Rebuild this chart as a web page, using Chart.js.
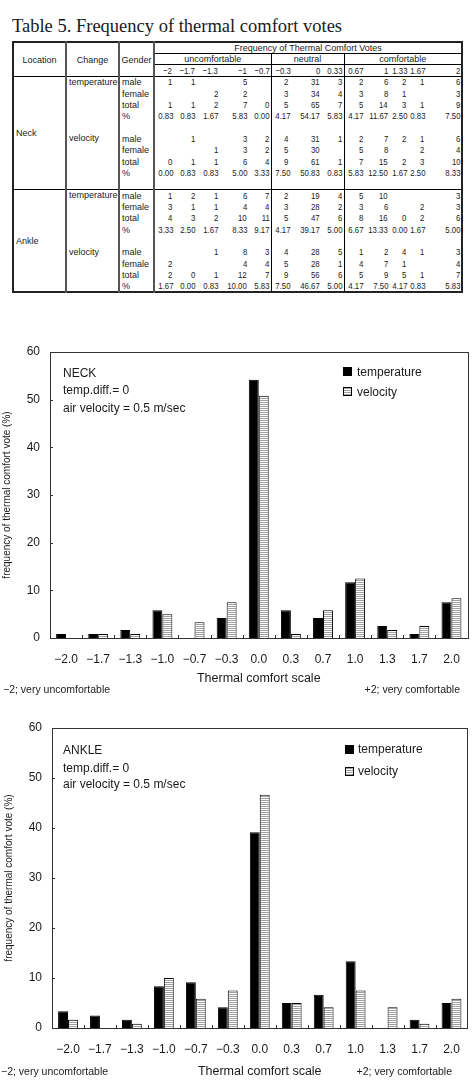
<!DOCTYPE html>
<html>
<head>
<meta charset="utf-8">
<script src="https://cdn.jsdelivr.net/npm/chart.js@4.4.0/dist/chart.umd.min.js"></script>
<style>
  body { margin: 0; background: #fff; width: 474px; height: 1086px; position: relative; overflow: hidden;
         font-family: "Liberation Sans", Arial, sans-serif; color: #1a1a1a; }
  #title { position: absolute; left: 12px; top: 16px; font-family: "Liberation Serif", "Times New Roman", serif;
           font-size: 18.5px; line-height: 20px; white-space: nowrap; }
  #votes { position: absolute; left: 12px; top: 41px; width: 449px; border-collapse: collapse; table-layout: fixed;
           font-size: 9px; border: 2px solid #222; }
  #votes td { padding: 0 1px 0 0; line-height: 10px; text-align: right; white-space: nowrap; overflow: visible; }
  #votes td span.n { display: inline-block; font-size: 9.5px; transform: scaleX(0.82); transform-origin: 100% 50%; }
  #votes tr { height: 11.35px; }
  #votes tr.h1 { height: 11px; } #votes tr.h2 { height: 10px; } #votes tr.h3 { height: 12px; }
  #votes td.hd { text-align: center; padding: 0; }
  #votes td.ul { border-bottom: 1px solid #000; }
  #votes tr.h3 td, #votes td.hd.sep { border-bottom: 1px solid #000; }
  #votes td.sep { border-right: 2px solid #555; }
  #votes td.gr { border-right: 1.5px solid #000; }
  #votes td.loc { text-align: left; vertical-align: middle; padding-left: 2px; }
  #votes td.chg { text-align: left; vertical-align: top; padding-left: 2px; }
  #votes td.gen { text-align: left; padding-left: 2px; }
  #votes tr.top td { border-top: 1px solid #000; }
  .chart { position: absolute; left: 0; width: 474px; }
  .note { position: absolute; font-size: 12px; line-height: 14px; white-space: nowrap; }
  .lg { position: absolute; font-size: 12px; line-height: 14px; white-space: nowrap; }
  .sw { position: absolute; width: 7px; height: 7px; border: 1px solid #000; }
  .sw.temp { background: #000; }
  .sw.vel { background: repeating-linear-gradient(to bottom, #a0a0a0 0 1px, #fff 1px 2px); }
  .scale-note { position: absolute; font-size: 10.5px; line-height: 12px; white-space: nowrap; }
</style>
</head>
<body>
<div id="title">Table 5. Frequency of thermal comfort votes</div>
<table id="votes"></table>

<div class="chart" style="top:330px;height:370px"><canvas id="neckChart" width="474" height="370"></canvas></div>
<div class="note" style="left:63px;top:365.5px">NECK</div>
<div class="note" style="left:63px;top:383px">temp.diff.= 0</div>
<div class="note" style="left:63px;top:400.5px">air velocity = 0.5 m/sec</div>
<div class="sw temp" style="left:343px;top:367px"></div>
<div class="lg" style="left:357px;top:364.5px">temperature</div>
<div class="sw vel" style="left:343px;top:387px"></div>
<div class="lg" style="left:357px;top:384.5px">velocity</div>
<div class="scale-note" style="left:3px;top:682.5px">−2; very uncomfortable</div>
<div class="scale-note" style="right:14px;top:682.5px">+2; very comfortable</div>

<div class="chart" style="top:710px;height:376px"><canvas id="ankleChart" width="474" height="376"></canvas></div>
<div class="note" style="left:63px;top:743px">ANKLE</div>
<div class="note" style="left:63px;top:760.5px">temp.diff.= 0</div>
<div class="note" style="left:63px;top:777px">air velocity = 0.5 m/sec</div>
<div class="sw temp" style="left:345px;top:745px"></div>
<div class="lg" style="left:358px;top:742px">temperature</div>
<div class="sw vel" style="left:345px;top:767px"></div>
<div class="lg" style="left:358px;top:764px">velocity</div>
<div class="scale-note" style="left:1px;top:1065px">−2; very uncomfortable</div>
<div class="scale-note" style="right:22px;top:1065px">+2; very comfortable</div>

<script>
// vote scale as written in the table header, and as the chart's x tick labels
const tableVotes = ["−2", "−1.7", "−1.3", "−1", "−0.7", "−0.3", "0", "0.33", "0.67", "1", "1.33", "1.67", "2"];
const chartLabels = ["−2.0", "−1.7", "−1.3", "−1.0", "−0.7", "−0.3", "0.0", "0.3", "0.7", "1.0", "1.3", "1.7", "2.0"];
const yTicks = [0, 10, 20, 30, 40, 50, 60];

// neck, temperature change
const neckTempMale   = [1, 1, null, 5, null, 2, 31, 3, 2, 6, 2, 1, 6];
const neckTempFemale = [null, null, 2, 2, null, 3, 34, 4, 3, 8, 1, null, 3];
const neckTempTotal  = [1, 1, 2, 7, 0, 5, 65, 7, 5, 14, 3, 1, 9];
const neckTempPct    = [0.83, 0.83, 1.67, 5.83, 0.00, 4.17, 54.17, 5.83, 4.17, 11.67, 2.50, 0.83, 7.50];
// neck, velocity change
const neckVelMale    = [null, 1, null, 3, 2, 4, 31, 1, 2, 7, 2, 1, 6];
const neckVelFemale  = [null, null, 1, 3, 2, 5, 30, null, 5, 8, null, 2, 4];
const neckVelTotal   = [0, 1, 1, 6, 4, 9, 61, 1, 7, 15, 2, 3, 10];
const neckVelPct     = [0.00, 0.83, 0.83, 5.00, 3.33, 7.50, 50.83, 0.83, 5.83, 12.50, 1.67, 2.50, 8.33];
// ankle, temperature change
const ankleTempMale   = [1, 2, 1, 6, 7, 2, 19, 4, 5, 10, null, null, 3];
const ankleTempFemale = [3, 1, 1, 4, 4, 3, 28, 2, 3, 6, null, 2, 3];
const ankleTempTotal  = [4, 3, 2, 10, 11, 5, 47, 6, 8, 16, 0, 2, 6];
const ankleTempPct    = [3.33, 2.50, 1.67, 8.33, 9.17, 4.17, 39.17, 5.00, 6.67, 13.33, 0.00, 1.67, 5.00];
// ankle, velocity change
const ankleVelMale    = [null, null, 1, 8, 3, 4, 28, 5, 1, 2, 4, 1, 3];
const ankleVelFemale  = [2, null, null, 4, 4, 5, 28, 1, 4, 7, 1, null, 4];
const ankleVelTotal   = [2, 0, 1, 12, 7, 9, 56, 6, 5, 9, 5, 1, 7];
const ankleVelPct     = [1.67, 0.00, 0.83, 10.00, 5.83, 7.50, 46.67, 5.00, 4.17, 7.50, 4.17, 0.83, 5.83];

// ---- table ----
const colW = [53, 53, 35, 19, 23, 23, 29, 23, 18, 32, 23, 20, 25, 18, 18, 37];
const groupEnd = i => (i === 4 || i === 7 ? "gr" : "");
const num = t => (t === "" ? "" : `<span class="n">${t}</span>`);

function valueCells(values, isPct) {
  return values.map((v, i) => {
    const txt = v === null ? "" : (isPct ? v.toFixed(2) : String(v));
    return `<td class="${groupEnd(i)}">${num(txt)}</td>`;
  }).join("");
}

function locationRows(name, groups, first) {
  const total = groups.reduce((n, g) => n + g.rows.length + (g.blank ? 1 : 0), 0);
  let out = "";
  let firstRow = true;
  groups.forEach(g => {
    const span = g.rows.length + (g.blank ? 1 : 0);
    g.rows.forEach((r, k) => {
      out += `<tr class="${firstRow && !first ? "top" : ""}">`;
      if (firstRow) out += `<td rowspan="${total}" class="loc sep">${name}</td>`;
      if (k === 0) out += `<td rowspan="${span}" class="chg sep">${g.change}</td>`;
      out += `<td class="gen sep">${r[0]}</td>` + valueCells(r[1], r[0] === "%") + "</tr>";
      firstRow = false;
    });
    if (g.blank) out += `<tr><td class="gen sep"></td>${valueCells(new Array(13).fill(null), false)}</tr>`;
  });
  return out;
}

let html = "<colgroup>" + colW.map(w => `<col style="width:${w}px">`).join("") + "</colgroup>";
html += '<tr class="h1"><td rowspan="3" class="hd sep">Location</td><td rowspan="3" class="hd sep">Change</td>' +
        '<td rowspan="3" class="hd sep">Gender</td><td colspan="13" class="hd ul">Frequency of Thermal Comfort Votes</td></tr>';
html += '<tr class="h2"><td colspan="5" class="hd ul gr">uncomfortable</td><td colspan="3" class="hd ul gr">neutral</td>' +
        '<td colspan="5" class="hd ul">comfortable</td></tr>';
html += '<tr class="h3">' + tableVotes.map((v, i) => `<td class="${groupEnd(i)}">${num(v)}</td>`).join("") + "</tr>";
html += locationRows("Neck", [
  { change: "temperature", blank: true, rows: [["male", neckTempMale], ["female", neckTempFemale], ["total", neckTempTotal], ["%", neckTempPct]] },
  { change: "velocity", blank: true, rows: [["male", neckVelMale], ["female", neckVelFemale], ["total", neckVelTotal], ["%", neckVelPct]] }
], true);
html += locationRows("Ankle", [
  { change: "temperature", blank: true, rows: [["male", ankleTempMale], ["female", ankleTempFemale], ["total", ankleTempTotal], ["%", ankleTempPct]] },
  { change: "velocity", blank: false, rows: [["male", ankleVelMale], ["female", ankleVelFemale], ["total", ankleVelTotal], ["%", ankleVelPct]] }
], false);
document.getElementById("votes").innerHTML = html;

// ---- charts ----
Chart.defaults.font.family = '"Liberation Sans", Arial, sans-serif';
Chart.defaults.color = "#1a1a1a";

// plot frame plus the small inward tick marks
const framePlugin = {
  id: "frame",
  afterDatasetsDraw(chart) {
    const { ctx, chartArea: a, scales: { x, y } } = chart;
    ctx.save();
    ctx.strokeStyle = "#333";
    ctx.lineWidth = 1;
    ctx.beginPath();
    y.ticks.forEach(t => {
      const py = Math.round(y.getPixelForValue(t.value)) + 0.5;
      ctx.moveTo(a.left, py);
      ctx.lineTo(a.left + 3, py);
    });
    for (let i = 1; i < x.ticks.length; i++) {
      const px = Math.round((x.getPixelForTick(i - 1) + x.getPixelForTick(i)) / 2) + 0.5;
      ctx.moveTo(px, a.bottom);
      ctx.lineTo(px, a.bottom - 3);
    }
    ctx.stroke();
    ctx.strokeRect(Math.round(a.left) + 0.5, Math.round(a.top) + 0.5, Math.round(a.width), Math.round(a.height));
    ctx.restore();
  }
};

function stripes(ctx) {
  const c = document.createElement("canvas");
  c.width = 4; c.height = 2;
  const g = c.getContext("2d");
  g.fillStyle = "#fff"; g.fillRect(0, 0, 4, 2);
  g.fillStyle = "#a0a0a0"; g.fillRect(0, 0, 4, 1);
  return ctx.createPattern(c, "repeat");
}

function makeChart(id, tempPct, velPct, box) {
  const canvas = document.getElementById(id);
  const ctx = canvas.getContext("2d");
  return new Chart(ctx, {
    type: "bar",
    data: {
      labels: chartLabels,
      datasets: [
        { label: "temperature", data: tempPct, backgroundColor: "#000", borderColor: "#000", borderWidth: 1 },
        { label: "velocity", data: velPct, backgroundColor: stripes(ctx), borderColor: "#000", borderWidth: 1 }
      ]
    },
    options: {
      responsive: false,
      animation: false,
      categoryPercentage: 0.62,
      barPercentage: 1.0,
      layout: { padding: { left: 0, right: box.right, top: box.top, bottom: 0 } },
      plugins: { legend: { display: false }, tooltip: { enabled: false } },
      scales: {
        x: {
          grid: { display: false, drawTicks: false },
          border: { display: false },
          ticks: { font: { size: 12 }, padding: 14, maxRotation: 0, autoSkip: false },
          title: { display: true, text: "Thermal comfort scale", font: { size: 12.5 }, padding: { top: 0, bottom: box.titleBottom } },
          afterFit: s => { s.height = box.xHeight; }
        },
        y: {
          min: yTicks[0],
          max: yTicks[yTicks.length - 1],
          grid: { display: false, drawTicks: false },
          border: { display: false },
          ticks: { stepSize: yTicks[1] - yTicks[0], padding: 10, font: { size: 12 } },
          title: { display: true, text: "frequency of thermal comfort vote (%)", font: { size: 10 }, padding: { top: box.yTitleLeft, bottom: 0 } },
          afterFit: s => { s.width = box.yWidth; }
        }
      }
    },
    plugins: [framePlugin]
  });
}

makeChart("neckChart", neckTempPct, neckVelPct, { top: 22, right: 5, xHeight: 62, titleBottom: 13.5, yWidth: 50, yTitleLeft: 1 });
makeChart("ankleChart", ankleTempPct, ankleVelPct, { top: 18, right: 4, xHeight: 58, titleBottom: 6.5, yWidth: 52, yTitleLeft: 3 });
</script>
</body>
</html>
